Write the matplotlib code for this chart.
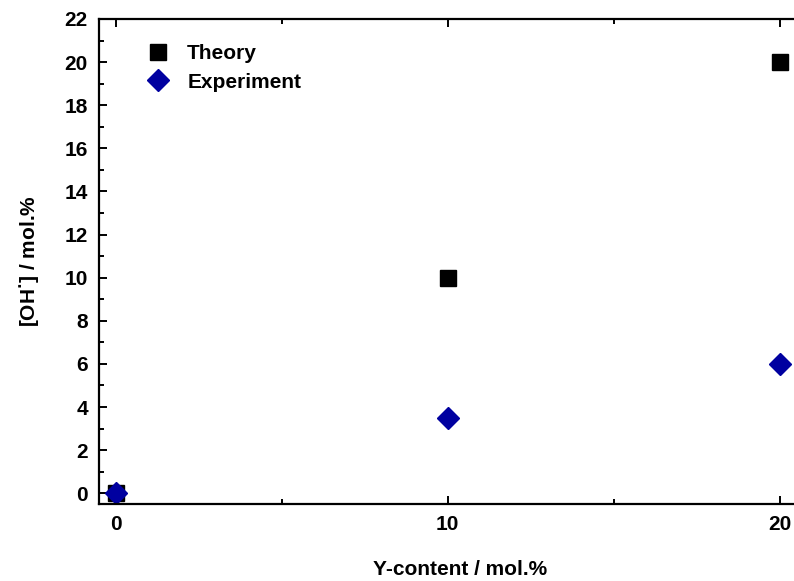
import matplotlib.pyplot as plt
from matplotlib.ticker import MultipleLocator

plt.rcParams.update({
    "font.family": ["Liberation Sans", "DejaVu Sans"],
    "font.weight": "bold",
    "axes.labelweight": "bold",
    "font.size": 15,
    "axes.linewidth": 1.6,
    "mathtext.default": "bf",
})

# data
y_content = [0, 10, 20]
oh_theory = [0, 10, 20]
oh_experiment = [0, 3.5, 6]

fig = plt.figure(figsize=(7.94, 5.81), dpi=100)
ax = fig.add_axes([0.1247, 0.1325, 0.8753, 0.8348])

ax.plot(y_content, oh_theory, "s", color="black", markersize=11.5,
        linestyle="none", label="Theory")
ax.plot(y_content, oh_experiment, "D", color="#0000A0", markersize=11,
        linestyle="none", label="Experiment")

ax.set_xlim(-0.5, 20.43)
ax.set_ylim(-0.5, 22)
ax.xaxis.set_major_locator(MultipleLocator(10))
ax.xaxis.set_minor_locator(MultipleLocator(5))
ax.yaxis.set_major_locator(MultipleLocator(2))
ax.yaxis.set_minor_locator(MultipleLocator(1))
ax.tick_params(which="both", direction="in", top=True, right=False, width=1.4)
ax.tick_params(which="major", length=6, pad=8)
ax.tick_params(which="minor", length=3.5)
ax.spines["right"].set_visible(False)

ax.set_xlabel("Y-content / mol.%")
ax.xaxis.set_label_coords(0.52, -0.115)
ax.set_ylabel("[OH$^{\\bullet}$] / mol.%", labelpad=16)

ax.legend(loc="upper left", bbox_to_anchor=(0.058, 0.965), frameon=False,
          handletextpad=0.9, labelspacing=0.45, borderaxespad=0,
          handlelength=1.0, fontsize=15)

plt.savefig("out.png", dpi=100)
plt.close()
